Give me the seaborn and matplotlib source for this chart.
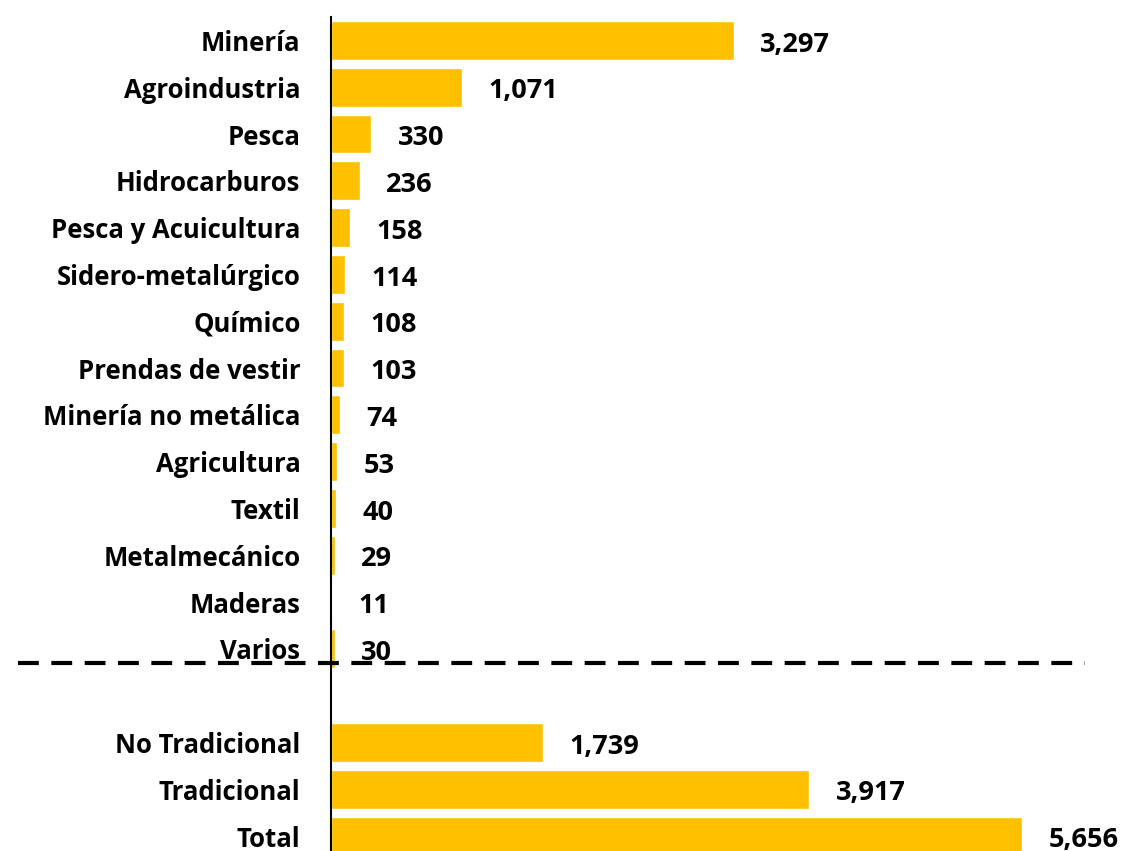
import pandas as pd
import seaborn as sns
import matplotlib.pyplot as plt

# sector values
sectores = ['Minería', 'Agroindustria', 'Pesca', 'Hidrocarburos', 'Pesca y Acuicultura',
            'Sidero-metalúrgico', 'Químico', 'Prendas de vestir', 'Minería no metálica',
            'Agricultura', 'Textil', 'Metalmecánico', 'Maderas', 'Varios']
valores_sectores = [3297, 1071, 330, 236, 158, 114, 108, 103, 74, 53, 40, 29, 11, 30]

# totals
totales = ['No Tradicional', 'Tradicional', 'Total']
valores_totales = [1739, 3917, 5656]

orden = sectores + [' '] + totales
df = pd.DataFrame({'cat': sectores + totales,
                   'valor': valores_sectores + valores_totales})

sns.set_style('white')
plt.rcParams['font.family'] = ['Open Sans', 'DejaVu Sans']
plt.rcParams['text.color'] = 'black'
plt.rcParams['ytick.color'] = 'black'

fig = plt.figure(figsize=(11.25, 8.51), dpi=100)
ax = fig.add_axes([331 / 1125, 0, 1 - 331 / 1125, (851 - 17) / 851])

sns.barplot(data=df, x='valor', y='cat', order=orden, orient='h',
            color='#FFC000', saturation=1, width=0.83, ax=ax)

ax.set_xlim(0, 6500)
ax.set_ylim(17.32, -0.5)
ax.set_xlabel('')
ax.set_ylabel('')
ax.set_xticks([])
ax.tick_params(axis='y', length=0, pad=22)
for lbl in ax.get_yticklabels():
    lbl.set_fontsize(18.5)
    lbl.set_fontweight('bold')
    lbl.set_color('black')

for s in ['top', 'right', 'bottom']:
    ax.spines[s].set_visible(False)
ax.spines['left'].set_color('black')
ax.spines['left'].set_linewidth(1.5)

# value labels
for i, c in enumerate(orden):
    fila = df[df['cat'] == c]
    if len(fila) == 0:
        continue
    v = fila['valor'].iloc[0]
    ax.annotate(f'{v:,}', xy=(v, i), xytext=(19, -3), textcoords='offset points',
                va='center', ha='left', fontsize=19.5, fontweight='bold', color='black')

# dashed separator
ax.axhline(13.3, xmin=(18 - 331) / 794, xmax=(1085 - 331) / 794, color='black',
           linestyle=(0, (5, 3)), linewidth=3, clip_on=False)

plt.savefig('out.png', dpi=100)
